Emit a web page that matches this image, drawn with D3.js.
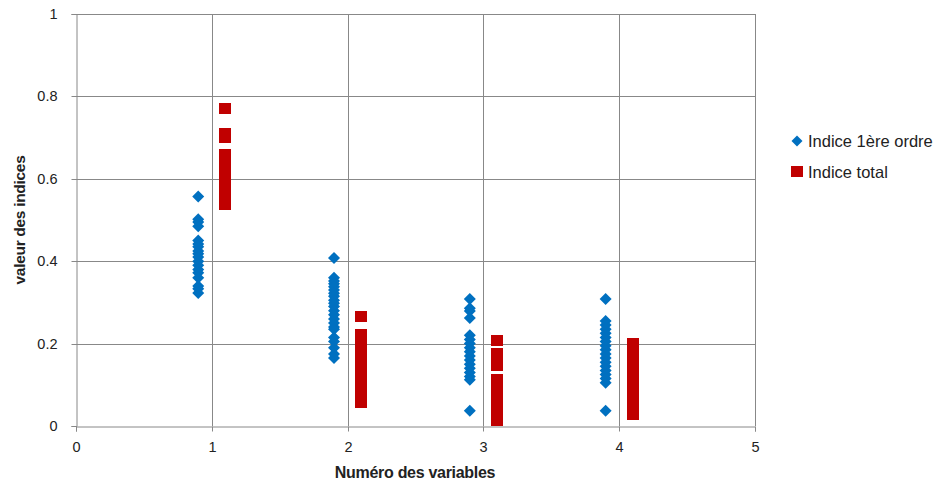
<!DOCTYPE html>
<html><head><meta charset="utf-8">
<script src="https://cdn.jsdelivr.net/npm/d3@7"></script>
<style>body{margin:0;background:#fff}svg{display:block}text{font-family:"Liberation Sans",Arial,sans-serif}</style>
</head><body>
<svg id="c" width="940" height="486"></svg>
<script>
const variables = [1, 2, 3, 4];
const firstOrder = [
  [0.557,0.502,0.495,0.485,0.45,0.442,0.435,0.425,0.418,0.41,0.40,0.39,0.38,0.372,0.36,0.34,0.333,0.323],
  [0.408,0.36,0.352,0.345,0.338,0.33,0.322,0.315,0.305,0.298,0.29,0.28,0.27,0.26,0.25,0.24,0.235,0.215,0.205,0.19,0.175,0.165],
  [0.308,0.286,0.279,0.262,0.22,0.21,0.2,0.19,0.18,0.17,0.16,0.15,0.14,0.13,0.12,0.112,0.037],
  [0.308,0.255,0.245,0.235,0.225,0.215,0.205,0.195,0.185,0.175,0.165,0.155,0.145,0.135,0.125,0.115,0.105,0.037]
];
const totalIdx = [
  [0.77,0.709,0.70,0.658,0.645,0.63,0.615,0.60,0.585,0.57,0.555,0.537],
  [0.265,0.221,0.205,0.19,0.175,0.16,0.145,0.13,0.115,0.10,0.085,0.07,0.056],
  [0.207,0.177,0.162,0.147,0.114,0.1,0.085,0.07,0.055,0.04,0.025,0.01,0.0],
  [0.20,0.185,0.17,0.155,0.14,0.125,0.11,0.095,0.08,0.065,0.05,0.035,0.027]
];
const xTicks = [0,1,2,3,4,5];
const yTicks = [0,0.2,0.4,0.6,0.8,1];
const yTickLabels = ["0","0.2","0.4","0.6","0.8","1"];
const seriesNames = ["Indice 1ère ordre", "Indice total"];
const colors = ["#0070C0", "#C00000"];

const svg = d3.select("#c");
const L = 76, R = 755, T = 14, B = 426;
const x = d3.scaleLinear().domain([0,5]).range([L,R]);
const y = d3.scaleLinear().domain([0,1]).range([B,T]);
const grid = "#888";

svg.append("defs").append("clipPath").attr("id","clip")
  .append("rect").attr("x",L).attr("y",T-10).attr("width",R-L+10).attr("height",B-T+10);

// gridlines
svg.append("g").selectAll("line").data(yTicks.slice(1)).join("line")
  .attr("x1",L).attr("x2",R).attr("y1",d=>Math.round(y(d))+0.5).attr("y2",d=>Math.round(y(d))+0.5)
  .attr("stroke",grid).attr("stroke-width",1);
svg.append("g").selectAll("line").data(xTicks.slice(1)).join("line")
  .attr("y1",T).attr("y2",B).attr("x1",d=>Math.round(x(d))+0.5).attr("x2",d=>Math.round(x(d))+0.5)
  .attr("stroke",grid).attr("stroke-width",1);

// axes
const yAxis = d3.axisLeft(y).tickValues(yTicks).tickFormat((d,i)=>yTickLabels[i]).tickSize(5).tickPadding(14);
const gy = svg.append("g").attr("transform",`translate(${L+0.5},0)`).call(yAxis);
const xAxis = d3.axisBottom(x).tickValues(xTicks).tickFormat(d3.format("d")).tickSize(5).tickPadding(10);
const gx = svg.append("g").attr("transform",`translate(0,${B+0.5})`).call(xAxis);
[gx,gy].forEach(g=>{
  g.select(".domain").attr("stroke",grid);
  g.selectAll(".tick line").attr("stroke",grid);
  g.selectAll(".tick text").attr("font-size",14.5).attr("fill","#222");
});
gy.selectAll(".tick").attr("transform",d=>`translate(0,${Math.round(y(d))+0.5})`);
gx.selectAll(".tick").attr("transform",d=>`translate(${Math.round(x(d))+0.5},0)`);

// marks
const plot = svg.append("g").attr("clip-path","url(#clip)");
const diamond = "M0,-6L6,0L0,6L-6,0Z";
variables.forEach((v,i)=>{
  plot.append("g").selectAll("path").data(firstOrder[i]).join("path")
    .attr("d",diamond)
    .attr("transform",d=>`translate(${x(v-0.1)},${y(d)})`)
    .attr("fill",colors[0]);
  plot.append("g").attr("shape-rendering","crispEdges").selectAll("rect").data(totalIdx[i]).join("rect")
    .attr("x",Math.round(x(v+0.1)-6)).attr("y",d=>Math.round(y(d)-5.5)).attr("width",12).attr("height",11)
    .attr("fill",colors[1]);
});

// axis titles
svg.append("text").attr("x",415).attr("y",478).attr("text-anchor","middle")
  .attr("font-size",16).attr("font-weight","bold").attr("fill","#222").attr("letter-spacing",-0.3)
  .text("Numéro des variables");
svg.append("text").attr("transform",`translate(25,220) rotate(-90)`).attr("text-anchor","middle")
  .attr("font-size",15.5).attr("font-weight","bold").attr("fill","#222").attr("letter-spacing",-0.3)
  .text("valeur des indices");

// legend
const lg = svg.append("g");
lg.append("path").attr("d","M0,-5.5L5.5,0L0,5.5L-5.5,0Z").attr("transform","translate(797,141)").attr("fill",colors[0]);
lg.append("rect").attr("x",791).attr("y",166).attr("width",12).attr("height",11).attr("fill",colors[1]);
lg.selectAll("text").data(seriesNames).join("text")
  .attr("x",808).attr("y",(d,i)=>147+i*31).attr("font-size",16.5).attr("fill","#222").text(d=>d);
</script>
</body></html>
